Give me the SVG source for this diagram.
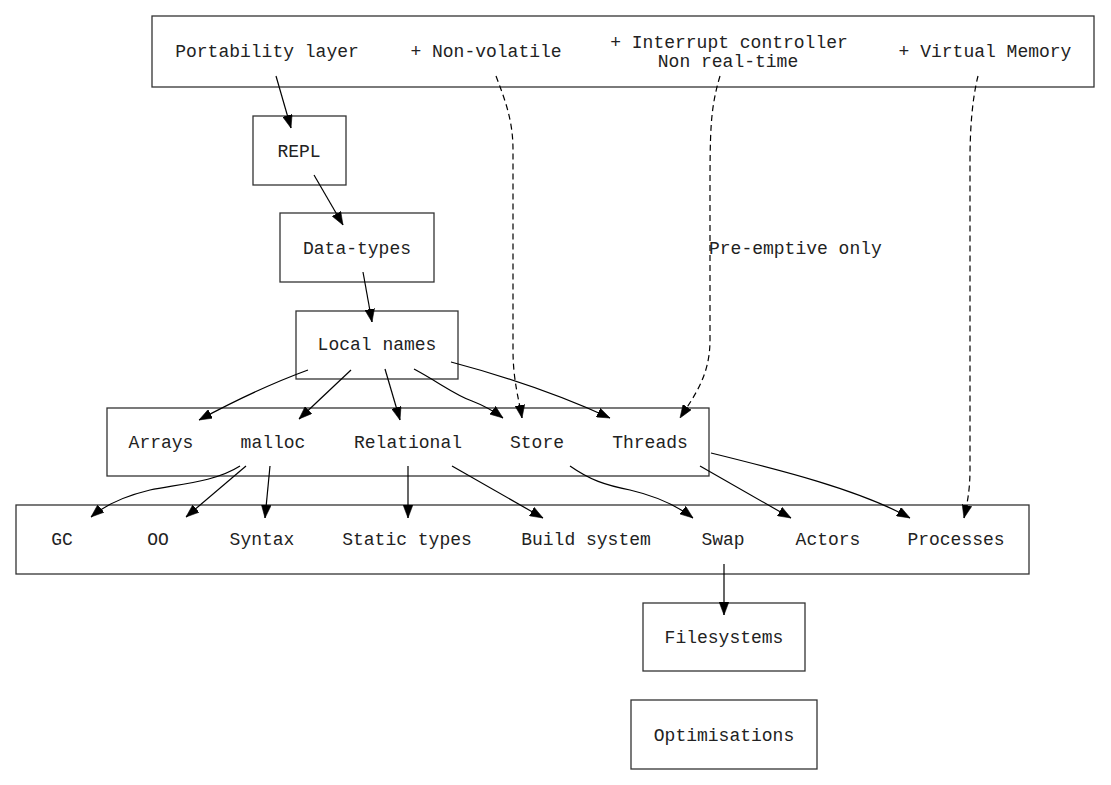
<svg xmlns="http://www.w3.org/2000/svg" width="1111" height="785" viewBox="0 0 1111 785">
<style>
rect{fill:#fff;stroke:#333;stroke-width:1.3}
text{font-family:"Liberation Mono","Courier New",monospace;font-size:18px;fill:#222;text-anchor:middle;dominant-baseline:central}
.e path{fill:none;stroke:#000;stroke-width:1.2;marker-end:url(#ah)}
.e .d{stroke-dasharray:6,4}
</style>
<defs>
<marker id="ah" markerUnits="userSpaceOnUse" markerWidth="13" markerHeight="10" refX="12" refY="4.5" orient="auto" viewBox="0 0 12 9">
<path d="M0,0 L12,4.5 L0,9 z" fill="#000" stroke="#000" stroke-width="0.5"/>
</marker>
</defs>
<rect x="0" y="0" width="1111" height="785" style="fill:#fff;stroke:none"/>
<g id="top">
<rect x="152" y="16" width="942" height="71"/>
<text x="267" y="52">Portability layer</text>
<text x="486" y="52">+ Non-volatile</text>
<text x="729" y="43">+ Interrupt controller</text>
<text x="728" y="62">Non real-time</text>
<text x="985" y="52">+ Virtual Memory</text>
</g>
<g id="repl"><rect x="253" y="116" width="93" height="69"/><text x="299" y="152">REPL</text></g>
<g id="datatypes"><rect x="280" y="213" width="154" height="69"/><text x="357" y="249">Data-types</text></g>
<g id="localnames"><rect x="296" y="311" width="162" height="68"/><text x="377" y="345">Local names</text></g>
<g id="mid">
<rect x="107" y="408" width="602" height="68"/>
<text x="161" y="443">Arrays</text>
<text x="273" y="443">malloc</text>
<text x="408" y="443">Relational</text>
<text x="537" y="443">Store</text>
<text x="650" y="443">Threads</text>
</g>
<g id="bottom">
<rect x="16" y="505" width="1013" height="69"/>
<text x="62" y="540">GC</text>
<text x="158" y="540">OO</text>
<text x="262" y="540">Syntax</text>
<text x="407" y="540">Static types</text>
<text x="586" y="540">Build system</text>
<text x="723" y="540">Swap</text>
<text x="828" y="540">Actors</text>
<text x="956" y="540">Processes</text>
</g>
<g id="filesystems"><rect x="643" y="603" width="162" height="68"/><text x="724" y="638">Filesystems</text></g>
<g id="optimisations"><rect x="631" y="700" width="186" height="69"/><text x="724" y="736">Optimisations</text></g>
<g class="e" id="edges">
<path d="M276,76 L291,128"/>
<path d="M314,175 L343,225"/>
<path d="M363,272 L372,322"/>
<path d="M308,370 C275,382 240,398 199,420"/>
<path d="M351,370 L299,419"/>
<path d="M385,369 L400,420"/>
<path d="M414,369 C440,383 455,395 472,401 C485,406 495,412 503,418"/>
<path d="M451,362 C500,375 560,395 610,418"/>
<path class="d" d="M496,76 C505,100 513,120 513,150 L513,350 C513,380 519,400 522,418"/>
<path class="d" d="M720,76 C710,110 710,130 710,200 L710,340 C710,375 695,395 680,418"/>
<text x="709" y="249" style="text-anchor:start">Pre-emptive only</text>
<path class="d" d="M978,76 C972,100 970,130 970,160 L970,470 C970,490 967,505 964,518"/>
<path d="M240,466 C215,482 180,484 150,490 C125,496 105,505 91,517"/>
<path d="M246,466 L186,517"/>
<path d="M270,466 L265,518"/>
<path d="M408,466 L408,518"/>
<path d="M452,466 L543,518"/>
<path d="M570,466 C590,480 605,485 630,490 C660,497 680,508 693,518"/>
<path d="M700,466 L791,518"/>
<path d="M711,453 C780,470 860,490 910,518"/>
<path d="M724,564 L724,615"/>
</g>
</svg>
